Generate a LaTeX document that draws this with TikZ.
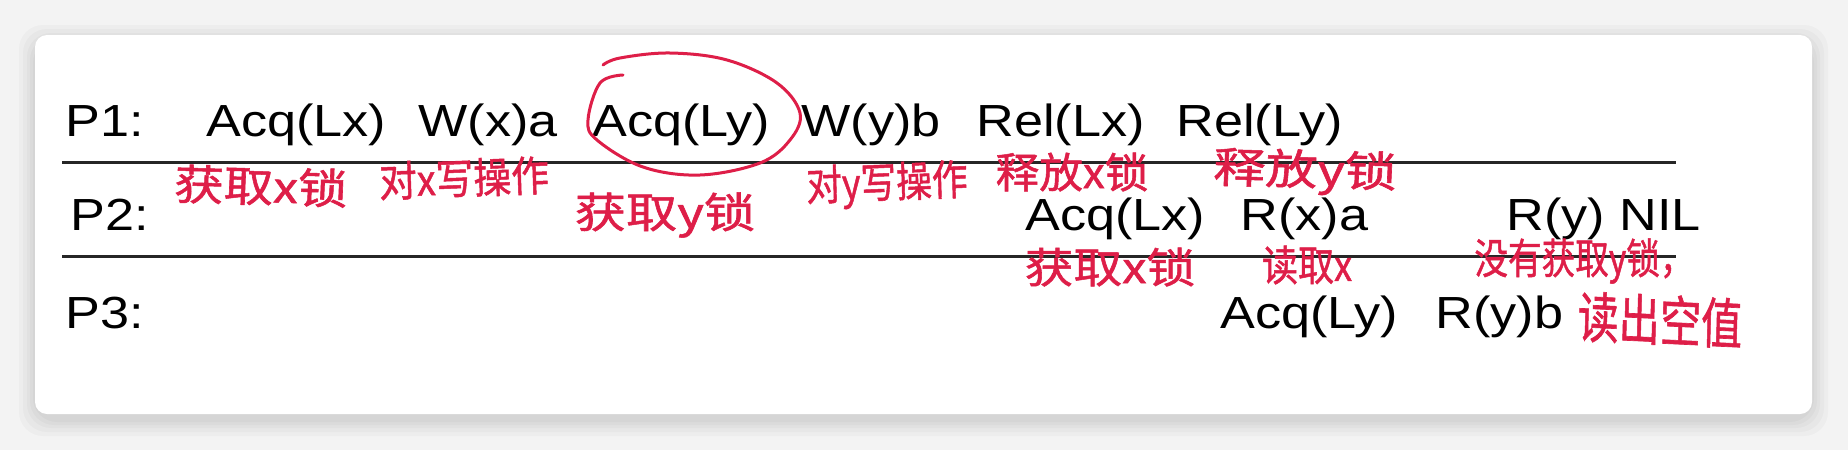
\documentclass[tikz,border=0pt]{standalone}
\usepackage{fontspec}
\setmainfont{Liberation Sans}
\newfontfamily\cjk{Noto Sans CJK SC}[FakeBold=1.2]
\usepackage{tikz}

\begin{document}
\begin{tikzpicture}[x=0.5pt, y=-0.5pt,
    op/.style={anchor=base west, inner sep=0pt, font=\fontsize{22.5}{26}\selectfont, xscale=1.16},
    note/.style={anchor=center, inner sep=0pt, text=hand, font=\cjk\fontsize{21}{22}\selectfont},
    rule/.style={line width=1.5pt, black!85}]

    % Couleurs
    \definecolor{hand}{RGB}{222, 30, 72}
    \definecolor{backg}{RGB}{243, 243, 243}

    % Fond et carte
    \useasboundingbox (0,0) rectangle (1848,450);
    \fill[backg] (0,0) rectangle (1848,450);
    \foreach \d in {2,5,8,12,16} {
        \fill[black, opacity=0.025, rounded corners=12pt] (35-\d,35-\d+6) rectangle (1812+\d,414+\d+6);
    }
    \fill[white, rounded corners=6pt] (35,35) rectangle (1812,414);

    % Processus
    \node[op] (p1) at (65,136) {P1:};
    \node[op] (p2) at (70,230) {P2:};
    \node[op] (p3) at (65,328) {P3:};

    % Operations P1
    \foreach \n/\x/\t in {aLx/206/{Acq(Lx)}, wx/418/{W(x)a}, aLy/592/{Acq(Ly)}, wy/801/{W(y)b}, rLx/976/{Rel(Lx)}, rLy/1176/{Rel(Ly)}} {
        \node[op] (\n) at (\x,136) {\t};
    }
    % Operations P2
    \foreach \n/\x/\t in {bLx/1025/{Acq(Lx)}, rx/1240/{R(x)a}, ry/1506/{R(y) NIL}} {
        \node[op] (\n) at (\x,230) {\t};
    }
    % Operations P3
    \foreach \n/\x/\t in {cLy/1220/{Acq(Ly)}, rb/1435/{R(y)b}} {
        \node[op] (\n) at (\x,328) {\t};
    }

    % Separations
    \coordinate (l1w) at (62,162);
    \coordinate (l1e) at (1676,162);
    \coordinate (l2w) at (62,256);
    \coordinate (l2e) at (1676,256);
    \draw[rule] (l1w) -- (l1e);
    \draw[rule] (l2w) -- (l2e);

    % Annotations a la main
    \node[note, xscale=1.18, rotate=-2] (n1) at (261,186) {获取x锁};
    \node[note, xscale=0.90, rotate=2] (n2) at (464,178) {对x写操作};
    \node[note, xscale=1.22] (n3) at (665,215) {获取y锁};
    \node[note, xscale=0.85, rotate=2] (n4) at (887,185) {对y写操作};
    \node[note, xscale=1.04] (n5) at (1072,172) {释放x锁};
    \node[note, xscale=1.24, rotate=-2] (n6) at (1305,172) {释放y锁};
    \node[note, xscale=1.16] (n7) at (1110,267) {获取x锁};
    \node[note, xscale=0.86] (n8) at (1307,265) {读取x};
    \node[note, xscale=0.80] (n9) at (1584,261) {没有获取y锁，};
    \node[note, xscale=0.98, yscale=1.3, rotate=-2] (n10) at (1660,320) {读出空值};

    % Cercle autour de Acq(Ly)
    \draw[hand, line width=1.5pt, line cap=round] plot[smooth, tension=0.6] coordinates {
        (623,75) (600,83) (588,120) (597,140) (643,167) (700,175) (760,163)
        (790,140) (800,113) (777,83) (727,60) (670,53) (620,58) (603,65)};

\end{tikzpicture}
\end{document}
